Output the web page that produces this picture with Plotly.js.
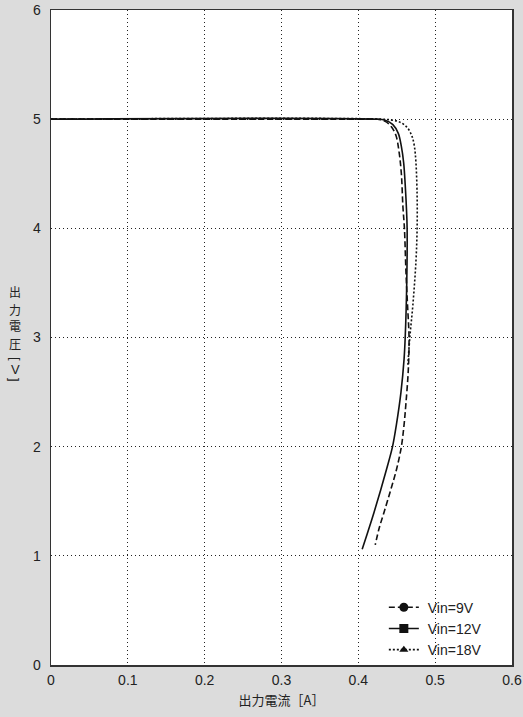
<!DOCTYPE html>
<html>
<head>
<meta charset="utf-8">
<script src="https://cdn.plot.ly/plotly-3.0.1.min.js"></script>
<style>html,body{margin:0;padding:0;background:#dcdcdc;}#chart{width:523px;height:717px;}</style>
</head>
<body>
<div id="chart"></div>
<script>
// Vin = 9V (dashed)
const i9  = [0, 0.40, 0.425, 0.435, 0.443, 0.449, 0.453, 0.456, 0.458, 0.460, 0.462, 0.464, 0.466, 0.465, 0.462, 0.4595, 0.456, 0.450, 0.442, 0.4335, 0.427, 0.422];
const v9  = [5, 5, 5, 4.98, 4.93, 4.85, 4.70, 4.50, 4.20, 4.00, 3.60, 3.30, 3.00, 2.70, 2.40, 2.20, 2.00, 1.80, 1.60, 1.40, 1.25, 1.10];
// Vin = 12V (solid)
const i12 = [0, 0.42, 0.435, 0.445, 0.452, 0.456, 0.459, 0.461, 0.4625, 0.4635, 0.463, 0.461, 0.4595, 0.4555, 0.4495, 0.4445, 0.437, 0.429, 0.4205, 0.4115, 0.405];
const v12 = [5, 5, 4.99, 4.95, 4.87, 4.75, 4.60, 4.40, 4.20, 4.00, 3.50, 3.00, 2.80, 2.50, 2.20, 2.00, 1.80, 1.60, 1.40, 1.20, 1.06];
// Vin = 18V (dotted)
const i18 = [0, 0.43, 0.445, 0.455, 0.464, 0.470, 0.473, 0.475, 0.4765, 0.4765, 0.475, 0.471, 0.467, 0.4645];
const v18 = [5, 5, 4.99, 4.97, 4.92, 4.84, 4.75, 4.60, 4.30, 4.00, 3.70, 3.30, 3.00, 2.75];

const seriesNames = ['Vin=9V', 'Vin=12V', 'Vin=18V'];
const xTicks = [0, 0.1, 0.2, 0.3, 0.4, 0.5, 0.6];
const xTickText = ['0', '0.1', '0.2', '0.3', '0.4', '0.5', '0.6'];
const yTicks = [0, 1, 2, 3, 4, 5, 6];
const xTitle = '出力電流［A］';
// vertical y-axis title "出力電圧[V]", one character per line; brackets turned to vertical form
const yTitleChars = ['出', '力', '電', '圧', '[', 'V', ']'];
const yTitlePos = [0.5695, 0.5435, 0.5176, 0.4916, 0.4672, 0.4519, 0.4351];

const dashes = ['6px,3px', 'solid', '2px,2px'];
const symbols = ['circle', 'square', 'triangle-up'];
const xs = [i9, i12, i18];
const ys = [v9, v12, v18];

const FONT = 'Liberation Sans, Arial, Noto Sans CJK JP, sans-serif';
const traces = [];
for (let k = 0; k < 3; k++) {
  traces.push({
    x: xs[k], y: ys[k], type: 'scatter', mode: 'lines',
    line: {color: '#111', width: 1.6, dash: dashes[k], shape: 'spline', smoothing: 1.0},
    showlegend: false, hoverinfo: 'skip'
  });
}
for (let k = 0; k < 3; k++) {
  traces.push({
    x: [null], y: [null], type: 'scatter', mode: 'lines+markers',
    name: '\u00a0' + seriesNames[k],
    line: {color: '#111', width: 1.6, dash: dashes[k]},
    marker: {color: '#111', size: symbols[k] === 'triangle-up' ? 8 : 9, symbol: symbols[k]},
    showlegend: true
  });
}

const annotations = yTitleChars.map((c, i) => {
  const isBracket = (c === '[' || c === ']');
  const isCJK = !isBracket && c !== 'V';
  return {
    xref: 'paper', yref: 'paper', x: -0.078, y: yTitlePos[i], xanchor: 'center', yanchor: 'middle',
    text: c, showarrow: false, textangle: isBracket ? 90 : 0,
    font: {family: isCJK ? 'Noto Sans CJK JP, sans-serif' : FONT, size: isCJK ? 12 : 13, color: '#222'}
  };
});

const layout = {
  width: 523, height: 717,
  margin: {l: 51, r: 11, t: 10, b: 52},
  paper_bgcolor: '#dcdcdc',
  plot_bgcolor: '#ffffff',
  font: {family: FONT, size: 14, color: '#222'},
  showlegend: true,
  legend: {
    x: 0.722, xanchor: 'left', y: 0.112, yanchor: 'top',
    bgcolor: 'rgba(0,0,0,0)', borderwidth: 0,
    font: {family: FONT, size: 14, color: '#222'},
    tracegroupgap: 0
  },
  xaxis: {
    range: [0, 0.6], tickvals: xTicks, ticktext: xTickText,
    showgrid: true, gridcolor: '#222', griddash: '1px,3px', gridwidth: 1.3,
    zeroline: false, showline: true, mirror: true, linecolor: '#333', linewidth: 1.5,
    ticks: '', ticklabelstandoff: 2,
    tickfont: {family: FONT, size: 14, color: '#222'},
    title: {text: xTitle, font: {family: 'Noto Sans CJK JP, sans-serif', size: 13, color: '#222'}, standoff: 8}
  },
  yaxis: {
    range: [0, 6], tickvals: yTicks,
    showgrid: true, gridcolor: '#222', griddash: '1px,3px', gridwidth: 1.3,
    zeroline: false, showline: true, mirror: true, linecolor: '#333', linewidth: 1.5,
    ticks: '', ticklabelstandoff: 6,
    tickfont: {family: FONT, size: 14, color: '#222'}
  },
  annotations: annotations
};

Plotly.newPlot('chart', traces, layout, {displayModeBar: false, staticPlot: true});
</script>
</body>
</html>
